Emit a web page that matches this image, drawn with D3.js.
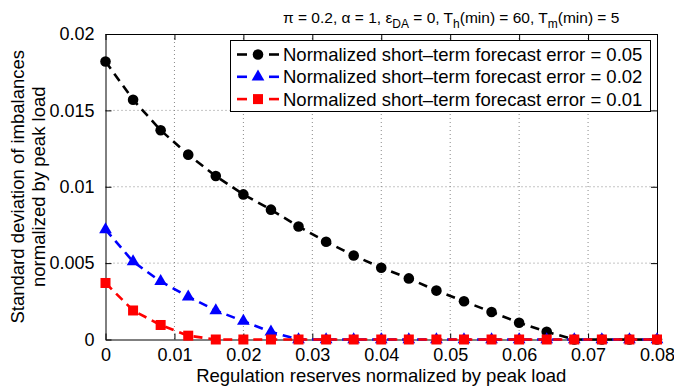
<!DOCTYPE html>
<html><head><meta charset="utf-8">
<script src="https://cdn.jsdelivr.net/npm/d3@7"></script>
<style>body{margin:0;background:#fff}svg{display:block;font-family:"Liberation Sans",Arial,sans-serif}</style>
</head><body><svg id="c" width="674" height="387"></svg>
<script>
const reserves = [0,0.004,0.008,0.012,0.016,0.02,0.024,0.028,0.032,0.036,0.04,0.044,0.048,0.052,0.056,0.06,0.064,0.068,0.072,0.076,0.08];
const err005 = [0.0182,0.0157,0.0137,0.0121,0.0107,0.0095,0.0085,0.0074,0.0064,0.0055,0.0047,0.0040,0.0032,0.0025,0.0018,0.0011,0.0005,0,0,0,0];
const err002 = [0.0072,0.0051,0.0038,0.0028,0.0019,0.0012,0.0005,0,0,0,0,0,0,0,0,0,0,0,0,0,0];
const err001 = [0.0037,0.0019,0.00095,0.00025,0,0,0,0,0,0,0,0,0,0,0,0,0,0,0,0,0];
const xTicks = [0,0.01,0.02,0.03,0.04,0.05,0.06,0.07,0.08];
const xTickLabels = ["0","0.01","0.02","0.03","0.04","0.05","0.06","0.07","0.08"];
const yTicks = [0,0.005,0.01,0.015,0.02];
const yTickLabels = ["0","0.005","0.01","0.015","0.02"];
const seriesNames = ["Normalized short\u2013term forecast error = 0.05","Normalized short\u2013term forecast error = 0.02","Normalized short\u2013term forecast error = 0.01"];

const series = [
  {name:seriesNames[0], values:err005, color:"#000000", marker:"circle"},
  {name:seriesNames[1], values:err002, color:"#0000ff", marker:"triangle"},
  {name:seriesNames[2], values:err001, color:"#ff0000", marker:"square"}
];

const L=105.5, R=657, T=34, B=339.5;
const svg = d3.select("#c");
const x = d3.scaleLinear().domain([0,0.08]).range([L,R]);
const y = d3.scaleLinear().domain([0,0.02]).range([B,T]);

// grid
const g = svg.append("g");
g.selectAll(".gx").data(xTicks.slice(1,-1)).enter().append("line")
  .attr("x1",d=>x(d)).attr("x2",d=>x(d)).attr("y1",T).attr("y2",B)
  .attr("stroke","#888").attr("stroke-width",1).attr("stroke-dasharray","1,3");
g.selectAll(".gy").data(yTicks.slice(1,-1)).enter().append("line")
  .attr("y1",d=>y(d)).attr("y2",d=>y(d)).attr("x1",L).attr("x2",R)
  .attr("stroke","#888").attr("stroke-width",1).attr("stroke-dasharray","1,3");

// axes with inward ticks
const tl = 6;
const axB = d3.axisBottom(x).tickValues(xTicks).tickFormat((d,i)=>xTickLabels[i]).tickSizeInner(-tl).tickSizeOuter(0).tickPadding(9);
const axT = d3.axisTop(x).tickValues(xTicks).tickFormat("").tickSizeInner(-tl).tickSizeOuter(0);
const axLf = d3.axisLeft(y).tickValues(yTicks).tickFormat((d,i)=>yTickLabels[i]).tickSizeInner(-tl).tickSizeOuter(0).tickPadding(11);
const axRt = d3.axisRight(y).tickValues(yTicks).tickFormat("").tickSizeInner(-tl).tickSizeOuter(0);
function style(sel){
  sel.selectAll("path").attr("stroke","#000").attr("stroke-width",1);
  sel.selectAll("line").attr("stroke","#000").attr("stroke-width",1);
  sel.selectAll("text").attr("fill","#000").style("font-size","18px").style("font-family",'"Liberation Sans",Arial,sans-serif');
}
svg.append("g").attr("transform",`translate(0,${B})`).call(axB).call(style);
svg.append("g").attr("transform",`translate(0,${T})`).call(axT).call(style);
svg.append("g").attr("transform",`translate(${L},0)`).call(axLf).call(style);
svg.append("g").attr("transform",`translate(${R},0)`).call(axRt).call(style);

// series
const line = d3.line().x((d,i)=>x(reserves[i])).y(d=>y(d));
function drawMarker(sel, type, color){
  if(type==="circle") sel.append("circle").attr("r",5.3).attr("fill",color);
  else if(type==="triangle") sel.append("path").attr("d",d3.symbol().type(d3.symbolTriangle).size(70)()).attr("fill",color);
  else sel.append("rect").attr("x",-5).attr("y",-5).attr("width",10).attr("height",10).attr("fill",color);
}
series.forEach(s=>{
  svg.append("path").datum(s.values).attr("d",line).attr("fill","none")
    .attr("stroke",s.color).attr("stroke-width",2.6).attr("stroke-dasharray","9,6");
  s.values.forEach((v,i)=>{
    const m = svg.append("g").attr("transform",`translate(${x(reserves[i])},${y(v)})`);
    drawMarker(m,s.marker,s.color);
  });
});

// legend
const lg = svg.append("g");
lg.append("rect").attr("x",230.5).attr("y",40.5).attr("width",420).attr("height",71)
  .attr("fill","#fff").attr("stroke","#000").attr("stroke-width",1);
series.forEach((s,i)=>{
  const yy = 54.5 + i*22.3;
  lg.append("line").attr("x1",237).attr("x2",247).attr("y1",yy).attr("y2",yy).attr("stroke",s.color).attr("stroke-width",2.6);
  lg.append("line").attr("x1",269).attr("x2",279).attr("y1",yy).attr("y2",yy).attr("stroke",s.color).attr("stroke-width",2.6);
  const m = lg.append("g").attr("transform",`translate(258,${yy})`);
  drawMarker(m,s.marker,s.color);
  lg.append("text").attr("x",283).attr("y",yy).attr("dy","0.36em").style("font-size","18.5px").text(s.name);
});

// axis labels
svg.append("text").attr("x",(L+R)/2).attr("y",382).attr("text-anchor","middle").style("font-size","18.5px")
  .text("Regulation reserves normalized by peak load");
const yl = svg.append("text").attr("transform",`translate(0,${(T+B)/2}) rotate(-90)`).attr("text-anchor","middle").style("font-size","18.5px");
yl.append("tspan").attr("x",0).attr("y",24).text("Standard deviation of imbalances");
yl.append("tspan").attr("x",0).attr("y",45).text("normalized by peak load");

// title
const tt = svg.append("text").attr("x",283).attr("y",23).style("font-size","15.5px");
tt.append("tspan").text("\u03c0 = 0.2, \u03b1 = 1, \u03b5");
tt.append("tspan").attr("dy",5).style("font-size","12px").text("DA");
tt.append("tspan").attr("dy",-5).text(" = 0, T");
tt.append("tspan").attr("dy",5).style("font-size","12px").text("h");
tt.append("tspan").attr("dy",-5).text("(min) = 60, T");
tt.append("tspan").attr("dy",5).style("font-size","12px").text("m");
tt.append("tspan").attr("dy",-5).text("(min) = 5");
</script></body></html>
